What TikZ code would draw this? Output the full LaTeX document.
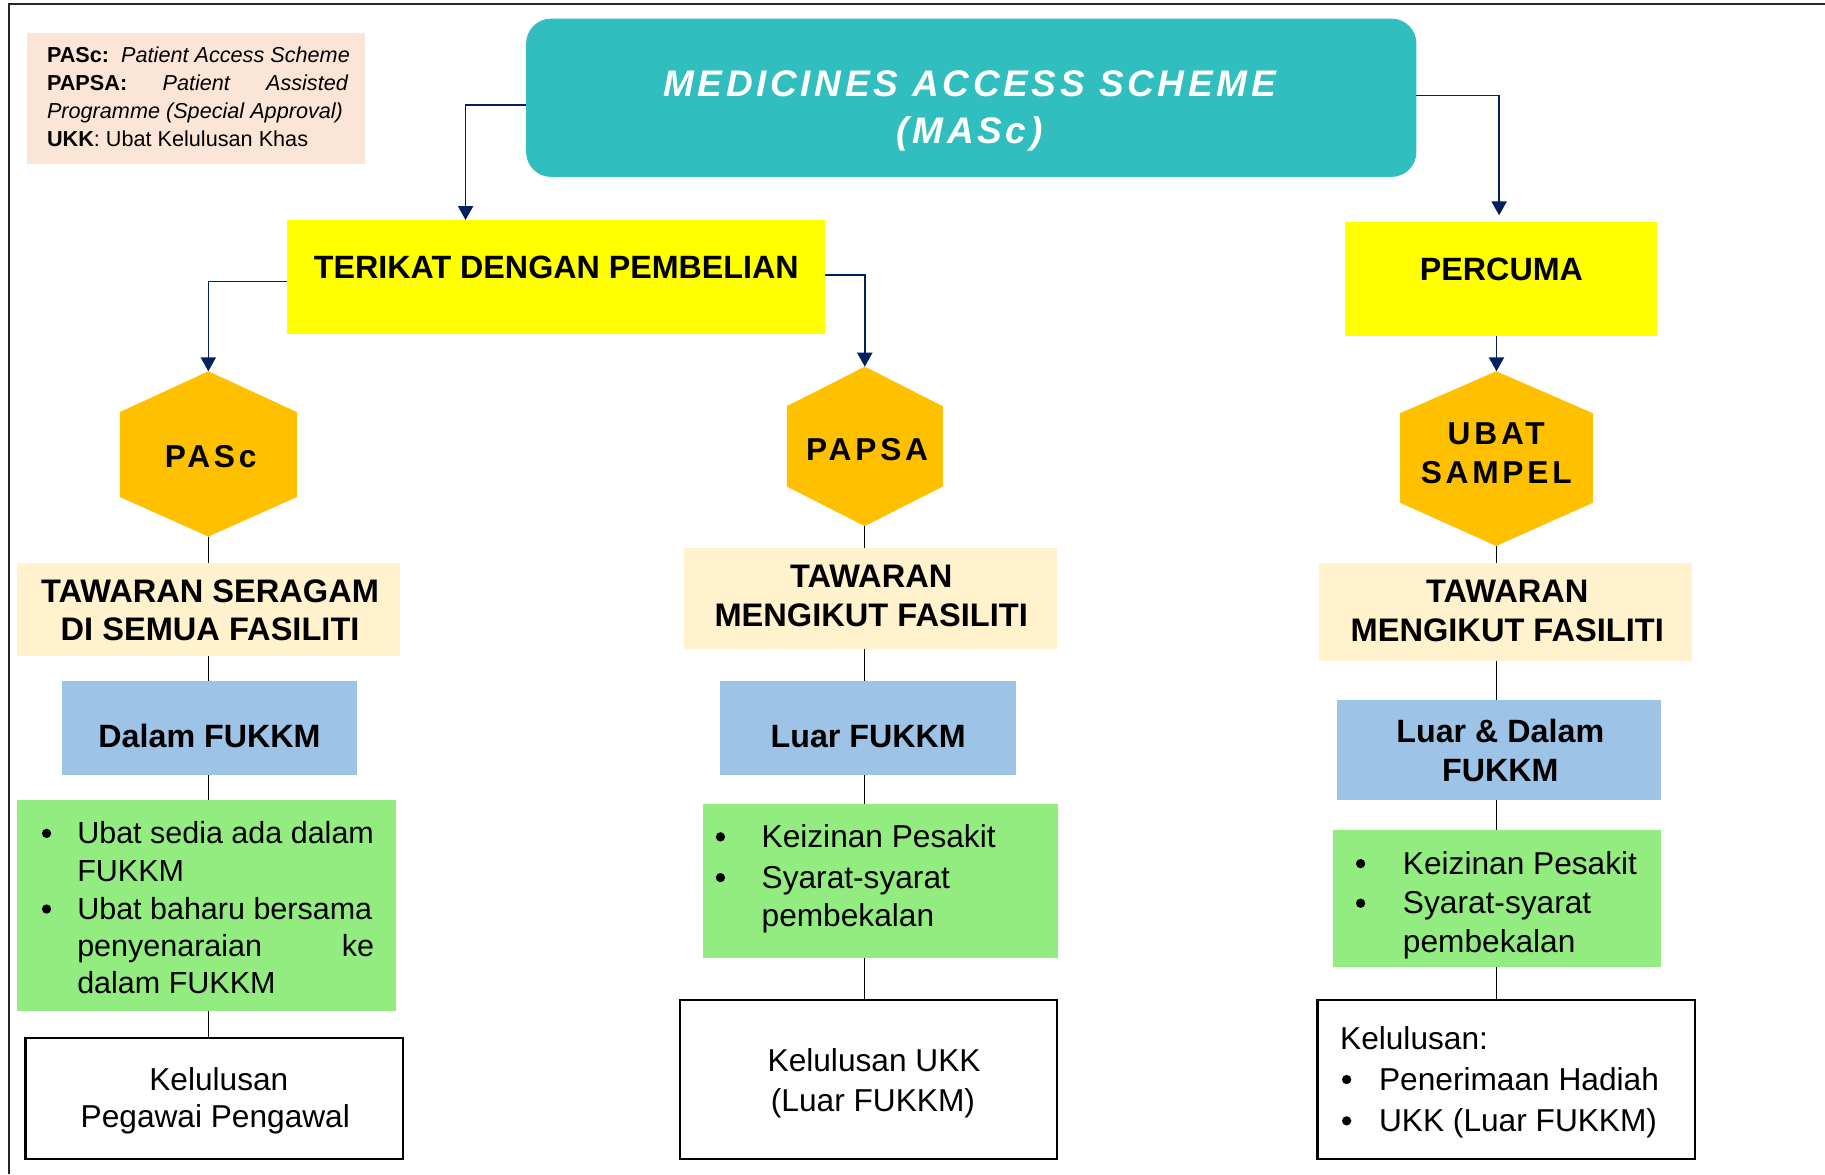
\documentclass[tikz,border=0pt]{standalone}
\usepackage{fontspec}
\setmainfont{Liberation Sans}
\newfontfamily\titlefont[LetterSpace=10]{Liberation Sans}
\newfontfamily\hexfont[LetterSpace=12]{Liberation Sans}
\usetikzlibrary{arrows.meta,fit}
\definecolor{teal}{RGB}{49,190,191}
\definecolor{peach}{RGB}{251,229,214}
\definecolor{yel}{RGB}{255,255,0}
\definecolor{orng}{RGB}{255,192,0}
\definecolor{cream}{RGB}{255,242,204}
\definecolor{lblue}{RGB}{157,195,230}
\definecolor{lgreen}{RGB}{146,236,128}
\definecolor{navy}{RGB}{0,32,96}
\tikzset{
  area/.style={inner sep=0pt, outer sep=0pt, draw=none},
  wbox/.style={inner sep=0pt, outer sep=0pt, draw=black, line width=1pt, fill=white},
  boldtxt/.style={anchor=base, inner sep=0pt, font=\fontsize{13.85}{16}\selectfont\bfseries},
  tawtxt/.style={anchor=base, inner sep=0pt, font=\fontsize{14}{16}\selectfont\bfseries},
  regtxt/.style={anchor=base, inner sep=0pt, font=\fontsize{13.6}{16}\selectfont},
  smalltxt/.style={anchor=base west, inner sep=0pt, font=\fontsize{13.1}{16}\selectfont},
  legtxt/.style={anchor=base west, inner sep=0pt, font=\fontsize{9.3}{12}\selectfont},
  hextxt/.style={anchor=base, inner sep=0pt, font=\hexfont\fontsize{13.6}{16}\selectfont\bfseries},
  ttltxt/.style={anchor=base, inner sep=0pt, text=white, font=\titlefont\fontsize{15.9}{20}\selectfont\bfseries\itshape},
  dot/.style={circle, fill=black, inner sep=0pt, minimum size=4pt},
  conn/.style={draw=navy, line width=0.7pt, -{Triangle[length=6pt,width=6.5pt]}},
  vline/.style={draw=black, line width=0.6pt},
}
\begin{document}
\begin{tikzpicture}[x=0.5pt,y=-0.5pt]
\useasboundingbox (0,0) rectangle (1568,1009);
% frame
\draw[line width=0.9pt, black!85] (7.5,1009) -- (7.5,3.5) -- (1568,3.5);

% legend
\node[area, fill=peach, fit={(23,28) (314,141)}] (legend) {};
\node[legtxt] (leg1) at (40,53.5) {\textbf{PASc:}\ \ \textit{Patient Access Scheme}};
\node[legtxt] (leg2) at (40,78) {\makebox[129.5pt][s]{\textbf{PAPSA:}\hfill\textit{Patient}\hfill\textit{Assisted}}};
\node[legtxt] (leg3) at (40,101.7) {\textit{Programme (Special Approval)}};
\node[legtxt] (leg4) at (40,126) {\textbf{UKK}: Ubat Kelulusan Khas};

% title
\node[area, fill=teal, rounded corners=10.75pt, fit={(452,16) (1217,152)}] (title) {};
\node[ttltxt] (ttl1) at (833,83) {MEDICINES ACCESS SCHEME};
\node[ttltxt] (ttl2) at (833,123) {(MASc)};

% level 1
\node[area, fill=yel, fit={(247,189) (709,287)}] (terikat) {};
\node[boldtxt] (terikatT) at (478,239) {TERIKAT DENGAN PEMBELIAN};
\node[area, fill=yel, fit={(1156,191) (1424,289)}] (percuma) {};
\node[boldtxt] (percumaT) at (1290,241) {PERCUMA};

% hexagons
\fill[orng] (179,319) -- (255,354) -- (255,427) -- (179,461) -- (103,427) -- (103,354) -- cycle;
\node[area, fit={(103,319) (255,461)}] (pascH) {};
\node[hextxt] (pascT) at (181,402) {PASc};
\fill[orng] (743,315) -- (810,349) -- (810,418) -- (743,452) -- (676,418) -- (676,349) -- cycle;
\node[area, fit={(676,315) (810,452)}] (papsaH) {};
\node[hextxt] (papsaT) at (745,396) {PAPSA};
\fill[orng] (1285.5,319) -- (1368.5,355) -- (1368.5,432) -- (1285.5,469) -- (1203,432) -- (1203,355) -- cycle;
\node[area, fit={(1203,319) (1368.5,469)}] (ubatH) {};
\node[hextxt] (ubatT1) at (1285.5,381.5) {UBAT};
\node[hextxt] (ubatT2) at (1285.5,415) {SAMPEL};

% tawaran boxes
\node[area, fill=cream, fit={(15,484) (344,564)}] (tawL) {};
\node[tawtxt] (tawL1) at (180.5,518) {TAWARAN SERAGAM};
\node[tawtxt] (tawL2) at (180.5,550) {DI SEMUA FASILITI};
\node[area, fill=cream, fit={(588,471) (908,558)}] (tawC) {};
\node[tawtxt] (tawC1) at (748.5,505) {TAWARAN};
\node[tawtxt] (tawC2) at (748.5,538) {MENGIKUT FASILITI};
\node[area, fill=cream, fit={(1133,484) (1454,568)}] (tawR) {};
\node[tawtxt] (tawR1) at (1295,518) {TAWARAN};
\node[tawtxt] (tawR2) at (1295,551) {MENGIKUT FASILITI};

% blue boxes
\node[area, fill=lblue, fit={(53,585) (307,666)}] (bluL) {};
\node[boldtxt] (bluLT) at (180,642) {Dalam FUKKM};
\node[area, fill=lblue, fit={(619,585) (873,666)}] (bluC) {};
\node[boldtxt] (bluCT) at (746,642) {Luar FUKKM};
\node[area, fill=lblue, fit={(1149,601) (1427,687)}] (bluR) {};
\node[boldtxt] (bluRT1) at (1289,638) {Luar \& Dalam};
\node[boldtxt] (bluRT2) at (1289,671) {FUKKM};

% green boxes
\node[area, fill=lgreen, fit={(15,687) (340,869)}] (grnL) {};
\node[dot] (gL1b) at (40,716) {};
\node[smalltxt] (gL1) at (66,725) {Ubat sedia ada dalam};
\node[smalltxt] (gL2) at (66,757) {FUKKM};
\node[dot] (gL3b) at (40,781) {};
\node[smalltxt] (gL3) at (66,790) {Ubat baharu bersama};
\node[smalltxt] (gL4) at (66,822) {\makebox[127.5pt][s]{penyenaraian\hfill ke}};
\node[smalltxt] (gL5) at (66,854) {dalam FUKKM};

\node[area, fill=lgreen, fit={(604,691) (909,823)}] (grnC) {};
\node[dot] (gC1b) at (619,719) {};
\node[regtxt, anchor=base west] (gC1) at (654,728) {Keizinan Pesakit};
\node[dot] (gC2b) at (619,754) {};
\node[regtxt, anchor=base west] (gC2) at (654,763) {Syarat-syarat};
\node[regtxt, anchor=base west] (gC3) at (654,796) {pembekalan};

\node[area, fill=lgreen, fit={(1145,713) (1427,831)}] (grnR) {};
\node[dot] (gR1b) at (1169,742) {};
\node[regtxt, anchor=base west] (gR1) at (1205,751) {Keizinan Pesakit};
\node[dot] (gR2b) at (1169,776) {};
\node[regtxt, anchor=base west] (gR2) at (1205,785) {Syarat-syarat};
\node[regtxt, anchor=base west] (gR3) at (1205,818) {pembekalan};

% white boxes
\node[wbox, fit={(22,892) (346,996)}] (whL) {};
\node[regtxt] (wL1) at (188,937) {Kelulusan};
\node[regtxt] (wL2) at (185,969) {Pegawai Pengawal};
\node[wbox, fit={(584,859) (908,996)}] (whC) {};
\node[regtxt] (wC1) at (751,921) {Kelulusan UKK};
\node[regtxt] (wC2) at (750,955) {(Luar FUKKM)};
\node[wbox, fit={(1132,859) (1456,996)}] (whR) {};
\node[regtxt, anchor=base west] (wR1) at (1151,902) {Kelulusan:};
\node[dot] (wR2b) at (1157,927.5) {};
\node[regtxt, anchor=base west] (wR2) at (1184.5,936.5) {Penerimaan Hadiah};
\node[dot] (wR3b) at (1157,963) {};
\node[regtxt, anchor=base west] (wR3) at (1184.5,972) {UKK (Luar FUKKM)};

% arrows
\draw[conn] (title.west |- 0,90) -| (terikat.north -| 400,0);
\draw[conn] (title.east |- 0,82) -| ([yshift=3pt]percuma.north -| 1288,0);
\draw[conn] (terikat.west |- 0,242) -| (pascH.north);
\draw[conn] (terikat.east |- 0,236) -| (papsaH.north);
\draw[conn] (percuma.south -| ubatH.north) -- (ubatH.north);

% vertical lines
\draw[vline] (pascH.south) -- (pascH.south |- tawL.north);
\draw[vline] (pascH.south |- tawL.south) -- (pascH.south |- bluL.north);
\draw[vline] (pascH.south |- bluL.south) -- (pascH.south |- grnL.north);
\draw[vline] (pascH.south |- grnL.south) -- (pascH.south |- whL.north);

\draw[vline] (papsaH.south) -- (papsaH.south |- tawC.north);
\draw[vline] (papsaH.south |- tawC.south) -- (papsaH.south |- bluC.north);
\draw[vline] (papsaH.south |- bluC.south) -- (papsaH.south |- grnC.north);
\draw[vline] (papsaH.south |- grnC.south) -- (papsaH.south |- whC.north);

\draw[vline] (ubatH.south) -- (ubatH.south |- tawR.north);
\draw[vline] (ubatH.south |- tawR.south) -- (ubatH.south |- bluR.north);
\draw[vline] (ubatH.south |- bluR.south) -- (ubatH.south |- grnR.north);
\draw[vline] (ubatH.south |- grnR.south) -- (ubatH.south |- whR.north);
\end{tikzpicture}
\end{document}
